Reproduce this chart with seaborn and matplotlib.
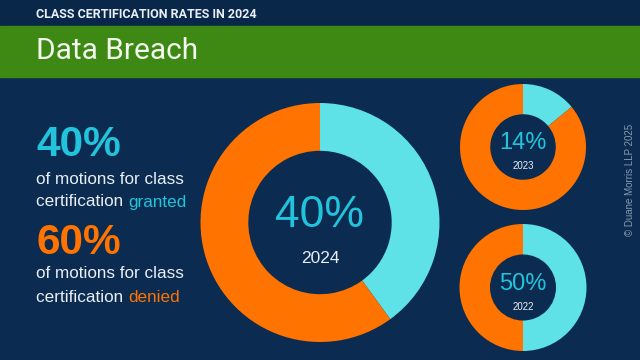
import matplotlib.pyplot as plt
import seaborn as sns
from matplotlib.patches import Rectangle

# data
years = ["2024", "2023", "2022"]
granted_pct = [40, 14, 50]
denied_pct = [60, 86, 50]
header = "CLASS CERTIFICATION RATES IN 2024"
title = "Data Breach"
credit = "\u00a9 Duane Morris LLP 2025"

navy = "#0b2c50"
navy_top = "#082749"
green = "#3e8914"
orange = "#ff7300"
cyan = "#5fe1e8"
cyan_text = "#22c3dc"
light = "#e8eef4"

sns.set_theme(style="white")
plt.rcParams["font.family"] = ["Liberation Sans", "DejaVu Sans"]

W, H = 640, 360
fig = plt.figure(figsize=(6.4, 3.6), dpi=100, facecolor=navy)

# header bands
fig.patches.append(Rectangle((0, 1 - 26 / H), 1, 26 / H, transform=fig.transFigure,
                             color=navy_top, zorder=0))
fig.patches.append(Rectangle((0, 1 - 77 / H), 1, 51 / H, transform=fig.transFigure,
                             color=green, zorder=0))
fig.text(36 / W, 1 - 14 / H, header, color=light, fontsize=9, fontweight="bold",
         family="Roboto", va="center", ha="left")
fig.text(36 / W, 1 - 51 / H, title, color="#f2f8ee", fontsize=21.5,
         family="Roboto", va="center", ha="left")


def donut(cx, cy, r, hole, granted, denied, year, big_size, small_size):
    ax = fig.add_axes([(cx - r) / W, 1 - (cy + r) / H, 2 * r / W, 2 * r / H])
    ax.pie([granted, denied], colors=[cyan, orange], startangle=90, counterclock=False,
           radius=1, wedgeprops={"width": 1 - hole, "linewidth": 0})
    ax.set_xlim(-1, 1)
    ax.set_ylim(-1, 1)
    ax.set_aspect("equal")
    ax.axis("off")
    ax.text(0, 0.06, f"{granted}%", color=cyan_text, fontsize=big_size,
            ha="center", va="center", fontweight="light")
    ax.text(0, -0.3, year, color=light, fontsize=small_size, ha="center", va="center")
    return ax


donut(320, 222.5, 119.5, 0.6, granted_pct[0], denied_pct[0], years[0], 32, 12.5)
donut(523, 147, 63, 0.52, granted_pct[1], denied_pct[1], years[1], 17, 7)
donut(523, 287.5, 63.5, 0.52, granted_pct[2], denied_pct[2], years[2], 17, 7)

# left side summary
fig.text(36 / W, 1 - 145 / H, f"{granted_pct[0]}%", color=cyan_text, fontsize=30.5,
         fontweight="bold", va="center", ha="left")
fig.text(36 / W, 1 - 179 / H, "of motions for class", color=light, fontsize=12.3,
         va="center", ha="left")
t = fig.text(36 / W, 1 - 202 / H, "certification ", color=light, fontsize=12.3,
             va="center", ha="left")
fig.canvas.draw()
bb = t.get_window_extent()
fig.text(bb.x1 / W, 1 - 202 / H, "granted", color=cyan_text, fontsize=12.3,
         va="center", ha="left")

fig.text(36 / W, 1 - 243 / H, f"{denied_pct[0]}%", color=orange, fontsize=30.5,
         fontweight="bold", va="center", ha="left")
fig.text(36 / W, 1 - 274 / H, "of motions for class", color=light, fontsize=12.3,
         va="center", ha="left")
t2 = fig.text(36 / W, 1 - 297 / H, "certification ", color=light, fontsize=12.3,
              va="center", ha="left")
fig.canvas.draw()
bb2 = t2.get_window_extent()
fig.text(bb2.x1 / W, 1 - 297 / H, "denied", color=orange, fontsize=12.3,
         va="center", ha="left")

fig.text(630 / W, 1 - 180 / H, credit, color="#8798ae", fontsize=7, rotation=90,
         va="center", ha="center")

fig.savefig("out.png", dpi=100, facecolor=navy)
